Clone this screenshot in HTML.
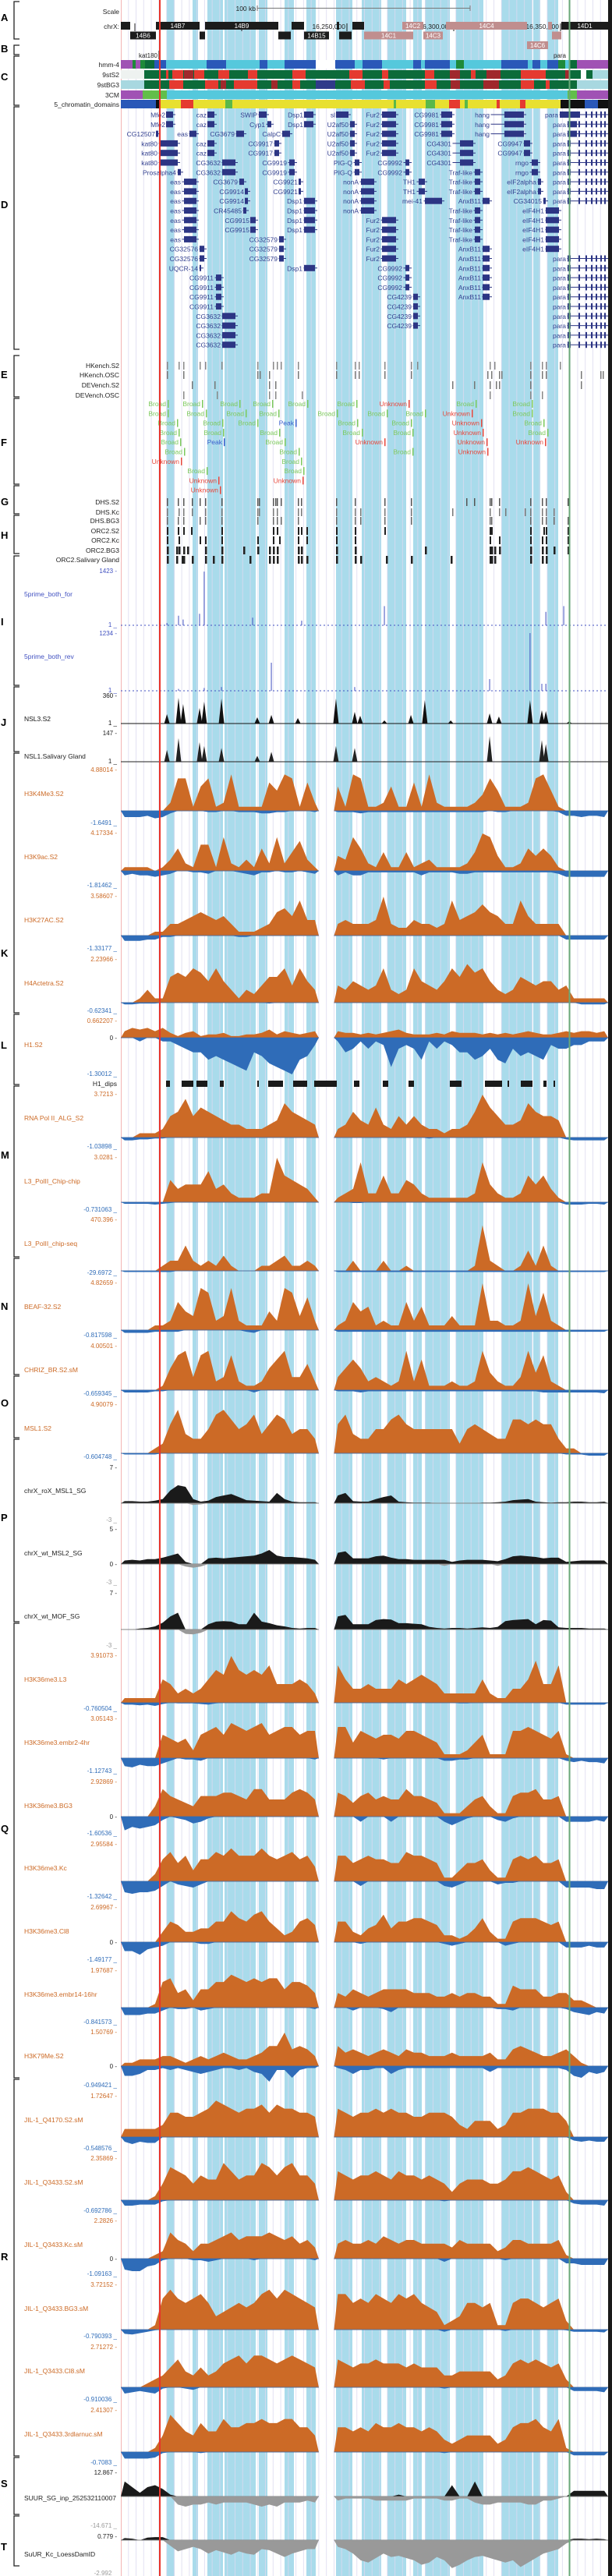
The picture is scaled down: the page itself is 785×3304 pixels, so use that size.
<!DOCTYPE html>
<html><head><meta charset="utf-8"><title>Genome browser</title>
<style>
html,body{margin:0;padding:0;background:#fff}
svg{display:block;font-family:"Liberation Sans",sans-serif}
</style></head>
<body>
<svg id="root" xmlns="http://www.w3.org/2000/svg" width="785" height="3304" viewBox="0 0 785 3304"></svg>
<script>
// ---------- data arrays (0-10 relative for orange/blue tracks; units for black tracks) ----------
const h3k4me3Pos=[0,0,0,0,0,0,2,8, 8,1,6,8,1,2,9,1, 1,1,1,7,5,9,8,1, 7,2,0,0,6,1,9,8, 1,1,2,6,1,1,7,1, 9,2,1,1,1,1,2,4, 8,5,1,1,1,2,8,9, 5,1,0,0,0,0,0,0];
const h3k4me3Neg=[5,5,5,4,6,5,2,0, 0,0,0,1,1,0,0,1, 1,1,2,2,1,1,0,0, 0,1,0,0,1,1,1,2, 1,1,1,1,1,1,1,1, 1,1,1,1,1,1,1,1, 0,1,1,0,0,0,0,0, 0,1,4,4,5,4,4,5];
const h3k9acPos=[1,1,1,1,0,1,3,6, 2,1,7,7,1,9,2,1, 3,1,6,2,9,2,5,8, 3,1,0,0,4,3,9,6, 2,1,5,1,1,5,1,2, 3,1,1,1,1,2,5,10, 9,4,1,1,2,6,4,6, 4,1,0,0,0,0,0,0];
const h3k9acNeg=[3,2,3,3,4,3,2,0, 0,1,1,2,0,0,0,1, 2,3,1,1,0,1,1,0, 1,2,0,0,3,1,3,3, 1,1,1,1,1,1,1,3, 1,1,1,1,2,2,1,1, 1,1,1,1,1,1,1,1, 1,2,4,4,4,4,4,4];
const h3k27acPos=[0,0,0,0,1,1,3,3, 4,5,6,5,4,5,3,1, 1,1,2,3,6,7,5,9, 4,4,0,0,3,4,3,3, 3,4,10,3,2,2,4,3, 3,2,3,9,4,5,6,8, 6,5,3,3,9,5,3,3, 3,3,0,0,0,0,0,0];
const h3k27acNeg=[4,4,4,3,3,1,1,0, 0,0,0,0,0,0,0,1, 1,0,0,0,0,0,0,0, 0,0,0,0,0,0,0,0, 0,0,0,0,0,0,0,0, 0,0,0,0,0,0,0,0, 0,0,0,0,0,0,0,0, 0,0,3,3,3,3,3,3];
const h4acPos=[0,0,1,3,1,1,6,7, 6,8,7,5,8,5,3,1, 3,2,4,6,6,8,4,8, 5,3,0,0,4,3,5,4, 3,4,8,3,2,3,8,5, 4,3,5,8,6,9,7,8, 5,3,2,3,6,5,4,5, 5,3,4,1,1,1,1,1];
const h4acNeg=[2,2,1,1,1,0,0,0, 0,0,0,0,0,0,0,0, 0,0,0,1,0,0,0,0, 0,0,0,0,0,0,0,0, 0,0,0,0,0,0,0,0, 0,0,0,0,0,0,0,0, 0,0,0,0,0,0,0,0, 0,0,0,0,2,2,2,2];
const h1Pos=[4,6,5,6,4,6,3,1, 3,4,1,2,2,3,1,1, 2,2,3,5,2,4,3,2, 3,4,0,0,4,3,3,2, 3,2,3,4,5,3,2,2, 2,3,2,4,3,3,3,2, 3,2,3,2,3,4,3,2, 2,3,4,3,4,4,3,4];
const h1Neg=[0,0,1,0,0,1,1,2, 3,4,4,6,5,6,7,8, 9,4,5,7,8,9,10,6, 5,2,0,0,1,4,3,1, 3,1,2,8,3,2,3,6, 1,3,1,2,4,4,6,5, 3,6,7,3,5,4,5,6, 2,3,3,2,2,1,1,1];
const polIIPos=[0,0,1,1,1,2,5,6, 9,5,7,6,5,4,3,3, 2,2,2,3,4,8,6,5, 4,3,0,0,2,3,6,4, 3,7,3,2,5,3,5,3, 2,2,1,2,2,3,6,10, 7,5,3,3,4,8,6,5, 5,4,0,0,0,0,0,0];
const polIINeg=[3,3,2,2,1,1,0,0, 0,0,0,0,0,0,0,0, 0,0,0,0,0,0,0,0, 0,0,0,0,0,0,0,0, 0,0,0,0,0,0,0,0, 1,0,0,0,0,0,0,0, 0,0,0,0,0,0,0,0, 0,0,2,3,3,3,3,3];
const chipChipPos=[0,0,0,0,0,0,5,3, 4,4,4,7,3,4,2,1, 1,1,2,2,10,6,5,4, 3,1,0,0,1,2,3,9, 2,2,6,2,2,5,4,2, 1,1,1,1,1,1,2,9, 4,2,1,1,2,6,4,6, 3,1,0,0,0,0,0,0];
const chipChipNeg=[2,2,2,2,3,2,1,0, 0,0,0,0,0,0,0,0, 0,0,0,0,0,0,0,0, 0,0,0,0,0,0,1,1, 0,0,0,0,0,0,0,0, 0,0,0,0,0,0,0,0, 0,0,0,0,0,0,0,0, 0,0,3,3,3,2,2,3];
const chipSeqPos=[0,0,0,0,0,1,2,2, 5,2,1,2,1,3,1,0, 0,0,1,1,2,3,1,1, 2,1,0,0,0,0,2,0, 0,0,2,0,0,1,0,0, 0,0,0,0,0,0,1,9, 2,1,0,0,1,4,1,5, 1,0,0,0,0,0,0,0];
const chipSeqNeg=[5,5,5,5,5,5,5,0, 0,0,0,0,0,0,0,0, 0,0,0,0,0,0,0,0, 0,0,0,0,5,5,5,5, 5,5,5,5,5,5,5,5, 5,5,5,5,5,5,5,5, 5,5,5,5,5,5,5,5, 5,5,5,5,5,5,5,5];
const beafPos=[0,0,0,0,1,1,2,6, 4,3,9,8,2,3,9,2, 1,1,1,4,2,9,8,3, 7,2,0,0,1,2,6,4, 5,1,2,1,1,6,2,5, 1,1,1,3,1,1,1,10, 2,2,1,1,2,10,3,8, 2,1,0,0,0,0,0,0];
const beafNeg=[5,5,5,5,3,3,3,3, 0,0,0,0,0,0,0,0, 3,5,0,0,0,0,0,0, 0,0,0,0,3,3,3,3, 3,3,3,3,3,3,3,3, 3,3,3,3,3,3,3,3, 3,3,3,3,3,3,3,3, 3,3,3,3,3,3,3,3];
const chrizPos=[0,0,0,0,0,1,5,8, 9,3,8,9,2,3,8,2, 1,1,2,5,7,9,3,3, 6,2,0,0,3,5,7,5, 2,3,2,1,2,9,2,7, 1,1,1,2,1,1,2,9, 4,2,1,1,3,9,4,8, 2,1,0,0,0,0,0,0];
const chrizNeg=[6,6,6,6,3,3,0,0, 0,0,0,0,0,0,0,0, 0,6,0,0,0,0,0,0, 0,0,0,0,3,3,3,6, 3,3,3,3,3,3,3,3, 3,3,3,3,3,3,3,3, 3,3,3,3,3,3,3,6, 6,6,6,6,6,6,6,8];
const msl1Pos=[0,0,0,0,1,2,6,9, 4,3,3,5,8,9,7,5, 6,8,4,6,8,7,4,5, 5,3,0,0,6,8,4,3, 3,5,5,7,8,6,5,5, 5,5,5,5,2,5,6,5, 4,3,3,7,7,6,7,6, 6,3,1,1,0,0,0,0];
const msl1Neg=[3,3,3,3,3,0,0,0, 0,0,0,0,0,0,0,0, 0,0,0,0,0,0,0,0, 0,0,0,0,0,0,0,0, 0,0,0,0,0,0,0,0, 0,0,0,0,0,0,0,0, 0,0,0,0,0,0,0,0, 0,0,3,3,3,6,6,6];
const roxPos=[0.4,0.4,0.3,0.3,0.5,0.8,2.5,3.5, 3.2,0.8,0.3,0.5,1.2,1.5,1.8,1.2, 0.6,0.5,0.4,0.3,2,0.8,0.3,0.2, 0.2,0.2,0,0,1.5,2,0.4,0.3, 0.3,0.8,1.2,1.5,0.3,0.2,0.1,0.1, 0.1,0,0,0,0,0,0,0.1, 0.1,0.2,0.3,0.6,0.7,0.8,0.3,0.2, 0.1,0.2,0.2,0.3,0.3,0.2,0.2,0.3];
const roxNeg=[0,0,0,0,0,0,0,0, 0,0.3,0.2,0,0,0,0,0, 0,0,0,0,0,0,0,0, 0,0,0,0,0,0,0,0, 0,0,0,0,0,0,0,0, 0,0,0,0,0,0,0,0, 0,0,0,0,0,0,0,0, 0,0,0,0,0,0,0,0];
const msl2Pos=[0.5,0.6,0.5,0.7,0.7,0.9,1.2,1.5, 0.3,0,0,0.8,0.9,0.8,0.9,1.0, 1.1,1.2,1.5,2,1.2,1,1,0.9, 0.8,0.6,0,0,1.6,1.8,0.8,0.8, 0.8,1.1,1.2,0.9,0.7,0.7,0.6,0.6, 0.6,0.6,0.6,0.3,0.5,0.6,0.6,0.6, 0.5,0.4,0.7,1.1,1.2,1.1,1.0,0.8, 0.9,0.9,0.3,0.4,0.5,0.5,0.5,0.5];
const msl2Neg=[0,0,0,0,0,0,0,0, 0.4,0.6,0.4,0,0,0,0,0, 0,0,0,0,0,0,0,0, 0,0,0,0,0,0,0,0, 0,0,0,0,0,0,0,0, 0,0,0.3,0,0,0,0,0, 0,0.3,0,0,0,0,0,0, 0,0,0,0,0,0,0,0];
const mofPos=[0,0,0.2,0.3,0.6,1.3,2.5,3.2, 0,0,0,1.0,1.5,1.6,1.5,1.0, 1.0,3.2,1.5,1.2,0.8,0.6,0.3,0.2, 0.3,0.3,0,0,2.5,2.8,1.0,1.0, 1.0,1.8,2,1.9,1.2,1.2,1.1,1.0, 0.5,0.3,0.2,0.3,0.3,0.2,0.3,0.4, 0.3,0.5,1.6,1.8,1.9,2.0,1.0,1.8, 1.7,0.4,0.3,0.3,0.3,0.2,0.2,0.2];
const mofNeg=[0,0,0,0,0,0,0,0, 0.8,0.9,0.6,0,0,0,0,0, 0,0,0,0,0,0,0,0, 0,0,0,0,0,0,0,0, 0,0,0,0,0,0,0,0, 0,0,0,0,0,0,0,0, 0,0,0,0,0,0,0,0, 0,0,0,0,0,0,0,0];
const k36L3Pos=[1,1,1,1,1,5,4,2, 3,2,3,5,7,6,10,7, 6,7,6,8,4,4,4,5, 4,2,0,0,8,5,3,3, 4,3,3,3,5,4,5,6, 5,4,2,2,2,2,2,5, 2,1,1,3,3,5,9,4, 4,8,0,0,0,0,0,0];
const k36L3Neg=[3,3,4,3,5,2,0,1, 1,1,2,3,1,0,0,0, 0,0,0,0,0,0,0,0, 0,0,0,0,0,0,0,0, 0,0,0,0,0,0,0,0, 0,0,0,0,1,1,0,0, 0,0,0,0,0,0,0,0, 0,0,3,3,3,3,3,3];
const k36E24Pos=[0,0,0,0,0,6,5,4, 5,2,6,7,8,6,9,8, 7,8,9,6,7,8,8,6, 7,7,0,0,8,8,4,7, 6,5,6,6,5,7,7,6, 5,4,1,1,1,2,4,6, 1,1,1,7,7,8,7,6, 5,7,1,0,0,0,0,0];
const k36E24Neg=[6,7,5,6,6,4,2,0, 1,1,2,0,0,0,0,0, 0,0,0,0,0,0,0,0, 0,1,0,0,0,0,0,0, 0,0,1,0,0,0,0,0, 0,0,2,2,1,1,0,0, 0,0,0,0,0,0,0,0, 0,0,2,3,2,3,3,4];
const k36BG3Pos=[0,0,0,0,3,8,6,5, 4,3,6,6,6,7,7,6, 5,8,8,5,5,5,7,8, 7,5,0,0,7,6,4,6, 7,5,6,5,5,8,6,6, 5,4,1,1,1,3,5,6, 3,1,1,6,7,7,8,5, 5,6,0,0,0,0,0,0];
const k36BG3Neg=[8,6,7,6,5,2,0,1, 2,4,3,1,0,0,0,0, 0,0,0,0,0,0,0,0, 0,0,0,0,0,0,0,3, 0,0,0,3,0,0,0,0, 0,0,3,5,3,1,0,0, 0,2,3,1,0,0,0,0, 0,0,3,3,3,3,2,3];
const k36KcPos=[0,0,0,0,2,6,8,5, 7,3,6,6,8,7,9,7, 7,7,9,7,6,7,8,6, 7,4,0,0,7,7,5,6, 7,6,6,5,5,8,7,7, 6,5,1,1,3,5,5,6, 3,1,1,6,7,6,7,5, 5,6,0,0,0,0,0,0];
const k36KcNeg=[7,8,7,7,6,3,0,2, 3,4,2,0,0,0,0,0, 0,0,0,0,0,0,0,0, 0,0,0,0,0,0,0,3, 0,0,0,0,0,0,0,0, 0,0,3,4,2,0,0,0, 0,2,1,1,0,0,0,0, 0,0,4,4,4,4,5,5];
const k36Cl8Pos=[0,0,0,0,0,3,6,5, 3,3,4,4,6,6,9,7, 6,8,9,6,4,2,3,6, 7,5,0,0,6,6,3,2, 4,5,8,4,6,6,7,7, 6,5,2,2,1,2,4,7, 3,1,1,6,7,7,7,6, 5,6,0,0,0,0,0,0];
const k36Cl8Neg=[5,5,7,4,3,2,0,0, 0,0,1,1,0,0,0,0, 0,0,0,0,0,0,0,0, 0,0,0,0,0,0,0,1, 0,0,0,0,0,0,0,0, 0,0,1,2,1,0,0,0, 0,0,2,1,0,0,0,0, 0,0,3,3,3,2,3,3];
const k36E14Pos=[0,0,0,0,1,7,8,4, 5,2,5,5,7,7,9,8, 7,8,7,8,8,5,7,7, 6,4,0,0,4,3,5,4, 3,4,5,5,5,5,4,4, 4,3,3,4,3,4,4,3, 3,1,1,6,5,5,5,3, 3,4,4,2,2,1,0,0];
const k36E14Neg=[5,5,5,4,4,2,0,1, 1,0,2,1,0,0,0,0, 0,0,0,0,0,0,0,0, 0,1,0,0,0,0,2,0, 0,0,1,3,0,0,0,0, 0,0,0,0,0,0,0,0, 0,1,1,2,0,0,0,0, 0,0,1,3,4,5,3,4];
const k79Pos=[1,1,2,2,2,3,3,2, 1,2,3,2,3,4,3,2, 2,3,4,6,6,10,5,6, 5,3,0,0,6,4,5,4, 3,4,5,4,3,5,4,4, 3,3,3,4,3,3,3,3, 4,2,2,5,6,5,4,3, 3,4,5,3,1,0,0,0];
const k79Neg=[5,5,4,2,2,1,2,1, 2,3,4,3,2,1,1,2, 1,3,4,8,2,2,6,2, 1,1,0,0,1,2,4,2, 2,1,1,4,2,1,1,1, 1,1,1,1,1,1,1,1, 3,1,1,1,1,1,1,1, 1,1,2,5,6,3,4,3];
const jil4170Pos=[2,2,2,2,2,3,6,6, 5,5,6,7,9,8,7,6, 7,7,8,6,8,7,7,6, 6,5,0,0,7,6,5,6, 6,7,6,7,6,6,5,5, 6,6,6,5,3,2,4,4, 4,2,3,6,6,7,7,7, 6,6,4,0,0,0,0,0];
const jil4170Neg=[4,6,4,5,5,0,0,0, 0,0,0,0,0,0,0,0, 0,0,0,0,0,0,0,0, 0,0,0,0,0,0,0,0, 0,0,0,0,0,0,0,0, 0,0,0,0,0,0,0,0, 0,0,0,0,0,0,0,0, 0,0,0,3,4,3,4,4];
const jilS2Pos=[0,0,0,0,1,4,8,7, 6,4,6,5,5,9,7,5, 6,6,9,8,6,8,9,6, 6,4,0,0,7,6,5,6, 6,7,6,5,7,6,6,5, 6,5,4,2,4,5,5,5, 4,4,5,7,7,8,7,6, 5,6,2,0,0,0,0,0];
const jilS2Neg=[5,5,4,4,4,1,0,0, 0,0,0,0,0,0,0,0, 0,0,0,0,0,0,0,0, 0,0,0,0,0,0,0,0, 0,0,0,0,0,0,0,0, 0,0,1,0,0,0,0,0, 0,0,0,0,0,0,0,0, 0,0,0,3,4,4,4,5];
const jilKcPos=[0,0,0,0,1,2,7,5, 4,2,4,4,5,6,7,5, 6,6,6,7,6,5,6,4, 5,3,0,0,4,5,4,4, 5,4,6,5,4,5,5,4, 4,4,4,3,5,4,4,4, 4,2,3,5,5,4,4,4, 4,5,1,0,0,0,0,0];
const jilKcNeg=[7,8,8,5,4,1,0,0, 0,1,1,2,1,0,0,0, 0,1,0,0,0,0,0,0, 0,1,0,0,0,0,0,0, 0,0,0,0,0,0,0,0, 0,0,2,0,0,0,0,0, 0,0,1,0,0,0,0,0, 0,0,3,3,4,4,4,4];
const jilBG3Pos=[0,0,0,0,1,7,9,7, 6,7,8,6,3,4,5,6, 5,6,8,9,7,9,8,7, 6,5,0,0,8,8,6,7, 6,8,7,6,8,7,8,6, 5,4,1,2,3,6,6,5, 6,1,1,6,7,7,6,5, 6,7,2,0,0,0,0,0];
const jilBG3Neg=[6,7,5,3,1,0,0,0, 0,0,0,0,0,0,0,0, 0,0,0,0,0,0,0,0, 0,0,0,0,0,0,0,0, 0,0,0,0,0,0,0,0, 0,0,3,0,0,0,0,0, 0,0,2,0,0,0,0,0, 0,0,1,3,3,3,3,4];
const jilCl8Pos=[0,0,0,1,2,3,5,7, 4,3,5,3,4,6,7,8, 6,8,8,7,6,7,8,7, 6,5,0,0,7,6,5,6, 6,7,6,6,6,5,6,5, 5,5,3,3,4,4,4,4, 4,2,3,6,7,6,7,6, 5,6,2,0,0,0,0,0];
const jilCl8Neg=[5,4,3,4,5,1,0,0, 1,2,0,0,0,0,0,0, 0,0,0,0,0,0,0,0, 0,0,0,0,0,0,0,0, 0,0,0,0,0,0,0,0, 0,0,1,0,0,0,0,0, 0,0,0,0,0,0,0,0, 0,0,0,3,3,3,3,4];
const jilLarPos=[0,0,0,0,1,4,9,7, 5,4,7,5,5,8,6,6, 7,7,8,7,7,8,8,6, 6,4,0,0,6,6,5,6, 5,7,6,6,7,6,6,5, 6,5,3,2,3,4,4,4, 4,2,3,6,7,7,8,6, 5,8,1,0,0,0,0,0];
const jilLarNeg=[6,6,6,6,5,1,0,0, 0,0,1,0,0,0,0,0, 0,0,0,0,0,0,0,0, 0,0,0,0,0,0,0,0, 0,0,0,0,0,0,0,0, 0,0,1,0,0,0,0,0, 0,0,0,0,0,0,0,0, 0,0,0,3,3,3,3,3];
const suurSgPos=[8,5,2,5,6,4,1,0, 0,0,0,0,0,0,0,0, 0,0,0,0,0,0,0,0, 0,0,0,0,0,0,0,0, 0,0,0,0,1,0,0,0, 0,0,0,6,0,0,8,0, 0,0,0,0,0,0,0,0, 0,0,0,3,3,3,3,3];
const suurSgNeg=[0,0,0,0,0,0,0,4, 5,4,4,3,4,3,3,3, 3,4,5,4,5,3,3,3, 2,3,0,0,2,1,1,1, 1,2,2,2,2,2,1,1, 1,1,2,2,1,1,3,4, 4,3,3,3,3,4,4,2, 2,1,0,0,0,0,0,0];
const suurKcPos=[0.4,0.3,0,0.5,0.6,0.6,0,0, 0,0,0,0,0,0,0,0, 0,0,0,0,0,0,0,0, 0,0,0,0,0,0,0,0, 0,0,0,0,0,0,0,0, 0,0,0,0,0,0,0,0, 0,0,0,0,0,0,0,0, 0,0,0,0.3,0.3,0.2,0.3,0.2];
const suurKcNeg=[0,0,0,0,0,0,0.5,1, 0.8,0.6,0.8,1.2,0.9,1.1,1.3,1.0, 1.2,1.3,0.8,0.9,1.2,1.5,1.2,1.0, 0.8,0.8,0,0,0.6,0.8,1.2,1.8, 2.0,1.6,1.2,1.5,1.4,1.6,1.8,2.2, 2.0,1.5,1.8,2.5,2.2,1.8,1.5,1.4, 1.6,1.8,2.0,1.8,2.4,2.0,1.6,1.2, 1.0,0.8,0.3,0,0,0,0,0];
// spike tracks: genomic positions (kb) and values
const fivePrimeForKb=[16164.5,16170.0,16172.2,16180.0,16182.2,16205.2,16228.5,16267.8,16344.5,16353.0];
const fivePrimeForVal=[60,250,150,300,1400,200,120,500,350,500];
const fivePrimeRevKb=[16170.0,16182.2,16190.4,16214.1,16253.7,16317.8,16337.0,16342.6,16344.5];
const fivePrimeRevVal=[40,60,80,600,80,250,1234,150,150];
const nsl3Kb=[16164.5,16170.0,16172.2,16180.0,16182.2,16190.4,16207.4,16214.1,16226.7,16244.8,16253.7,16256.3,16267.8,16280.4,16287.0,16299.3,16317.8,16322.2,16337.0,16342.6,16344.5,16355.6];
const nsl3Val=[120,330,250,200,280,320,80,110,70,320,150,100,40,110,300,40,130,90,300,170,160,30];
const nsl1Kb=[16164.5,16170.0,16180.0,16182.2,16190.4,16207.4,16214.1,16244.8,16253.7,16317.8,16342.6,16344.5];
const nsl1Val=[60,120,100,80,70,30,50,80,70,130,110,90];

// ---------- setup ----------
const NS='http://www.w3.org/2000/svg';
const svg=document.getElementById('root');
function mk(tag,a,p){const e=document.createElementNS(NS,tag);for(const k in a)e.setAttribute(k,a[k]);(p||svg).appendChild(e);return e;}
function tx(s,a,p){const e=mk('text',a,p);e.textContent=s;return e;}
const X0=155,X1=780,NB=64,BW=(X1-X0)/NB;
function binX(i){return X0+(i+0.5)*BW;}
function kbX(kb){return 155+(kb-16142.6)/0.37037;}
const ORANGE='#cc6a26',BLUE='#2f6cb8',NAVY='#2c3584';

// background layers
const gBg=mk('g',{});


const cols=[[214,224],[247,254],[266,286],[288,328],[332,343],[365,377],[393,405],[431,452],[464,489],[497,521],[530,541],[545,577],[585,620],[643,683],[684,693],[702,716]];
cols.forEach(c=>{const r=mk('rect',{x:c[0],y:0,width:c[1]-c[0],height:3304,fill:'#a9dbeb'},gBg);

});
for(let k=1;k<NB;k++){const l=mk('line',{x1:X0+k*BW,x2:X0+k*BW,y1:0,y2:3304,stroke:'#dcdaf0','stroke-width':1,opacity:0.8},gBg);

}
const pinkL=mk('line',{x1:155.5,x2:155.5,y1:0,y2:3304,stroke:'#f3b5b5','stroke-width':1});



// ---------- left brackets ----------
const groups=[['A',2,50,22],['B',58,70,62],['C',72,135,98],['D',137,448,262],['E',456,509,480],['F',511,621,567],['G',623,659,643],['H',661,710,686],['I',713,879,797],['J',881,964,926],['K',966,1299,1222],['L',1301,1391,1340],['M',1393,1612,1481],['N',1614,1763,1675],['O',1765,1844,1799],['P',1846,2080,1946],['Q',2082,2665,2345],['R',2667,3150,2894],['S',3152,3225,3185],['T',3227,3291,3266]];
groups.forEach(g=>{
 const p=mk('path',{d:`M25 ${g[1]} H18 V${g[2]} H25`,fill:'none',stroke:'#222','stroke-width':1.3});
 
 
 const t=tx(g[0],{x:1,y:g[3]+5,'font-size':13,'font-weight':'bold',fill:'#000'});
 
 
});

function lbl(s,x,y,col,anchor,size,name){const t=tx(s,{x:x,y:y,'font-size':size||8,fill:col||'#222','text-anchor':anchor||'end'});

return t;}

// ---------- header ----------
lbl('Scale',153,18,'#222','end',8.5,'scale-label');
lbl('chrX:',153,37,'#222','end',8.5,'chrom-label');
lbl('100 kb',328,14,'#222','end',8.5,'scale-bar-text');
const sb=mk('path',{d:'M330 7 V14 M330 10.5 H603 M603 7 V14',stroke:'#777','stroke-width':1,fill:'none'});


[['16,200,000',310],['16,250,000',445],['16,300,000',582],['16,350,000',719]].forEach(p=>{
 lbl(p[0],p[1]-2,37,'#222','end',8.5,'position-tick-label');
 const l=mk('line',{x1:p[1],x2:p[1],y1:30,y2:40,stroke:'#222','stroke-width':1});
 
 
});
const tk1=mk('line',{x1:173,x2:173,y1:30,y2:40,stroke:'#222'});


const bands=[[155,167,0,'','k'],[200,256,0,'14B7','k'],[263,357,0,'14B9','k'],[374,390,0,'','k'],[432,435,0,'','k'],[452,467,0,'','k'],[516,543,0,'14C2','p'],[572,676,0,'14C4','p'],[703,708,0,'','p'],[720,780,0,'14D1','k'],
[167,200,1,'14B6','k'],[256,263,1,'','k'],[357,373,1,'','k'],[390,422,1,'14B15','k'],[435,451,1,'','k'],[467,530,1,'14C1','p'],[543,568,1,'14C3','p'],[708,720,1,'','p'],[676,703,2,'14C6','p']];
bands.forEach(b=>{const y=28+b[2]*12.5;
 const r=mk('rect',{x:b[0],y:y,width:b[1]-b[0],height:10,fill:b[4]=='k'?'#1c1c1c':'#c08e8e'});
 
 
 if(b[3]){const t=tx(b[3],{x:(b[0]+b[1])/2,y:y+8,'font-size':8,fill:'#fff','text-anchor':'middle'});
 
 }
});
lbl('kat180',202,74,'#222','end',8,'kat180-label');
lbl('para',726,74,'#222','end',8,'para-label');
const k180=mk('line',{x1:204,x2:204,y1:65,y2:76,stroke:'#111'});



function strip(name,y,h,base,segs){
 lbl(name,153,y+h-2,'#222','end',8.5,'chromatin-track-label');
 const b=mk('rect',{x:155,y:y,width:625,height:h,fill:base});
 
 
 segs.forEach(s=>{const r=mk('rect',{x:s[0],y:y,width:s[1]-s[0],height:h,fill:s[2]});
 
 });
}
const PU='#a052b4',GR='#1e8a3a',DB='#2a58b8',CY='#55c8dc',RD='#e53a30',DG='#0c6b3a',DR='#a0282c',LB='#a8d8e0';
strip('hmm-4',77,11,CY,[[155,170,PU],[170,174,GR],[174,180,PU],[180,186,GR],[186,198,DG],[198,213,DB],[265,290,DB],[333,343,DB],[365,405,DB],[405,430,'#fff'],[430,455,DB],[465,490,DB],[530,540,DB],[545,577,DB],[585,595,GR],[643,677,DB],[683,693,DB],[702,716,DB],[716,725,GR],[730,740,DG],[740,780,PU]]);
strip('9stS2',90,11,DG,[[155,185,'#eef2f0'],[213,216,RD],[221,235,RD],[236,248,DR],[249,262,RD],[280,294,RD],[318,330,RD],[375,392,RD],[448,465,RD],[490,498,RD],[545,557,RD],[577,590,DR],[604,610,RD],[624,642,DR],[668,690,RD],[690,700,RD],[725,730,DR],[745,752,'#fff'],[760,780,LB]]);
strip('9stBG3',103,11,DG,[[155,185,LB],[217,235,RD],[263,280,RD],[283,290,DR],[300,330,RD],[348,356,DR],[375,385,RD],[405,430,'#303a8a'],[450,468,RD],[492,500,RD],[545,560,RD],[578,590,DR],[620,640,DR],[668,685,RD],[700,705,RD],[740,780,LB]]);
strip('3CM',116,11,CY,[[155,183,PU],[183,214,'#62be4a'],[728,740,'#62be4a'],[740,780,PU]]);
strip('5_chromatin_domains',128,11,'#e8e030',[[155,200,DB],[200,204,'#111'],[232,248,RD],[289,298,'#5ab84a'],[505,508,'#5ab84a'],[546,558,'#5ab84a'],[576,590,RD],[596,600,'#5ab84a'],[637,641,RD],[667,674,RD],[719,750,'#111'],[750,767,DB],[767,780,'#111']]);

// ---------- genes ----------
const genes=[['Mfe2',212,213,222,[0,1]],['CG12507',199,200,203,[2]],['kat80',202,204,228,[3,4,5]],['Prosalpha4',226,228,232,[6]],['eas',232,236,252,[7,8,9,10,11,12,13]],['caz',265,266,275,[0,1,3,4]],['eas',241,243,252,[2]],['CG3679',301,303,313,[2]],['CG3632',283,285,302,[5,6,21,22,23,24]],['CG3679',305,307,313,[7]],['CG9914',313,314,318,[8,9]],['CR45485',310,312,316,[10]],['CG9915',320,321,328,[11,12]],['CG32576',254,256,262,[14,15]],['UQCR-14',254,256,258,[16]],['CG9911',274,277,284,[17,18,19,20]],['SWIP',330,332,342,[0]],['Cyp1',340,343,348,[1]],['CalpC',360,362,372,[2]],['CG9917',350,352,358,[3,4]],['CG9919',368,371,378,[5,6]],['CG9921',382,383,386,[7,8]],['CG32579',356,358,364,[13,14,15]],['Dsp1',389,390,402,[0,1]],['Dsp1',388,390,404,[9,10,11,12,16]],['sl',430,431,447,[0]],['U2af50',447,449,455,[1,2,3,4]],['PIG-Q',452,455,461,[5,6]],['nonA',460,463,480,[7,8,9,10]],['Fur2',487,490,508,[0,1,2,3,4,11,12,13,14,15]],['CG9981',563,566,580,[0,1,2]],['CG9992',516,520,525,[5,6,16,17,18]],['TH1',533,537,545,[7,8]],['mei-41',542,545,567,[9]],['CG4239',528,530,536,[19,20,21,22]],['CG4301',579,590,607,[3,4,5]],['Traf-like',606,609,616,[6,7,8,10,11,12,13]],['AnxB11',617,619,628,[9,14,15,16,17,18,19]],['hang',628,647,672,[0,1,2]],['CG9947',670,672,680,[3,4]],['rngo',678,682,690,[5,6]],['eIF2alpha',688,690,694,[7,8]],['CG34015',695,697,700,[9]],['eIF4H1',698,700,717,[10,11,12,13,14]],['para',716,718,744,[0]],['para',726,728,740,[1,2]],['para',726,728,732,[3,4,5,6,7,8,9,15,16,17,18,19,20,21,22,23,24]]];
genes.forEach(g=>{g[4].forEach(r=>{const y=147+r*12.3;
 lbl(g[0],g[1],y+3.5,'#33408f','end',8.5,'gene-label');
 const ln=mk('line',{x1:g[1]+1.5,x2:g[0]=='para'?780:g[3]+3,y1:y,y2:y,stroke:NAVY,'stroke-width':1});
 
 
 const bx=mk('rect',{x:g[2],y:y-4,width:Math.max(2,g[3]-g[2]),height:8,fill:NAVY});
 
 
 if(g[0]=='para'){[742,751,758,764,770,775].forEach(x=>{const t=mk('rect',{x:x,y:y-4,width:2,height:8,fill:NAVY});
 
 });}
});});

// ---------- tick tracks (E, G, H) ----------
function ticks(name,y,xs,col,w){lbl(name,153,y+3,'#222','end',8.5,'feature-track-label');
 xs.forEach(x=>{const r=mk('rect',{x:x,y:y-5,width:w||1.5,height:10,fill:col});
 
 });}
ticks('HKench.S2',469,[214,229,235,256,263,284,330,350,355,360,382,431,455,460,493,527,535,628,634,680,695,700,718],'#888');
ticks('HKench.OSC',481,[214,235,330,333,345,382,431,455,460,493,527,625,630,640,643,680,695,700,745,770,773],'#777');
ticks('DEVench.S2',494,[246,275,345,353,580,608,628,636,640,680,745],'#777');
ticks('DEVench.OSC',507,[235,278,345,353,387,628,680,695],'#888');
ticks('DHS.S2',644,[214,228,235,246,256,263,284,330,332,350,353,355,360,382,386,431,455,493,527,598,608,628,630,640,680,695,700,728],'#555');
ticks('DHS.Kc',657,[214,229,235,246,263,284,330,332,350,355,382,386,431,455,462,493,527,580,628,640,648,673,680,695,700,710],'#777');
ticks('DHS.BG3',668,[214,228,235,256,263,284,330,350,355,360,382,431,455,462,493,527,628,630,680,695,700,710,728],'#666');
ticks('ORC2.S2',681,[214,228,235,245,284,350,355,382,386,393,431,455,493,628,630,680,697,700,728],'#222',2);
ticks('ORC2.Kc',693,[214,229,256,263,284,330,350,358,382,393,431,455,628,640,680,695,700,728],'#222',2);
ticks('ORC2.BG3',706,[214,226,229,235,240,263,284,312,330,345,350,355,382,386,431,455,545,628,630,634,640,680,695,700,710,728],'#222',2.5);
ticks('ORC2.Salivary Gland',718,[214,226,233,235,246,263,273,284,320,345,350,355,382,386,393,431,455,462,495,527,578,628,630,634,680,695,700],'#222',2.5);

// ---------- F: peak calls ----------
const fCalls=[['Broad','g',213,0],['Broad','g',257,0],['Broad','g',305,0],['Broad','g',347,0],['Broad','g',392,0],['Broad','g',455,0],['Unknown','r',522,0],['Broad','g',608,0],['Broad','g',680,0],
['Broad','g',213,1],['Broad','g',262,1],['Broad','g',313,1],['Broad','g',355,1],['Broad','g',430,1],['Broad','g',494,1],['Broad','g',543,1],['Unknown','r',603,1],['Broad','g',680,1],
['Broad','g',225,2],['Broad','g',283,2],['Broad','g',328,2],['Peak','b',377,2],['Broad','g',456,2],['Broad','g',525,2],['Unknown','r',615,2],['Broad','g',695,2],
['Broad','g',227,3],['Broad','g',284,3],['Broad','g',356,3],['Broad','g',462,3],['Broad','g',527,3],['Unknown','r',617,3],['Broad','g',700,3],
['Broad','g',229,4],['Peak','b',285,4],['Broad','g',363,4],['Unknown','r',491,4],['Unknown','r',622,4],['Unknown','r',697,4],
['Broad','g',234,5],['Broad','g',381,5],['Broad','g',527,5],['Unknown','r',623,5],
['Unknown','r',230,6],['Broad','g',384,6],['Broad','g',263,7],['Broad','g',387,7],['Unknown','r',278,8],['Unknown','r',386,8],['Unknown','r',280,9]];
const fcol={g:'#7cc95c',r:'#e8483c',b:'#3a5fcd'};
fCalls.forEach(f=>{const y=518+f[3]*12.3;
 lbl(f[0],f[2],y+3,fcol[f[1]],'end',8.5,'peak-call-label');
 const r=mk('rect',{x:f[2]+2,y:y-5,width:1.5,height:10,fill:fcol[f[1]]});
 
 });

// ---------- I / J spike tracks ----------
function spikes(name,col,top,base,maxV,kbs,vals,tl,triangle,dotted){
 lbl(tl+' -',150,top+3,col,'end',8,'axis-max-label');
 lbl('1 _',150,base+2,col,'end',8,'axis-min-label');
 lbl(name,31,top+33,col,'start',8.5,'track-name');
 const bl=mk('line',{x1:155,x2:780,y1:base,y2:base,stroke:col,'stroke-width':1,'stroke-dasharray':dotted?'2 3':'none'});
 
 
 const h=base-top;
 kbs.forEach((kb,i)=>{const x=kbX(kb),y=base-vals[i]/maxV*h;
  const p=triangle?mk('path',{d:`M${x-3.5} ${base} L${x} ${y} L${x+3.5} ${base} Z`,fill:col}):mk('line',{x1:x,x2:x,y1:base,y2:y,stroke:col,'stroke-width':1});
  
  });
}
spikes('5prime_both_for','#4050c0',732,802,1423,fivePrimeForKb,fivePrimeForVal,'1423',false,true);
spikes('5prime_both_rev','#4050c0',812,886,1234,fivePrimeRevKb,fivePrimeRevVal,'1234',false,true);
spikes('NSL3.S2','#111',892,928,360,nsl3Kb,nsl3Val,'360',true,false);
spikes('NSL1.Salivary Gland','#222',940,977,147,nsl1Kb,nsl1Val,'147',true,false);

// ---------- H1 dips ----------
lbl('H1_dips',150,1393,'#222','end',8.5,'h1-dips-label');
[[213,218],[233,248],[252,266],[282,287],[330,332],[344,363],[376,394],[403,432],[454,461],[491,498],[524,531],[577,592],[622,644],[651,653],[668,683],[697,701],[710,712]].forEach(d=>{
 const r=mk('rect',{x:d[0],y:1386,width:d[1]-d[0],height:8,fill:'#1a1a1a'});
 
 });

// ---------- signal tracks ----------
const sigTracks=[
['H3K4Me3.S2','4.88014','-1.6491',987,1040,1056,h3k4me3Pos,h3k4me3Neg,0],
['H3K9ac.S2','4.17334','-1.81462',1068,1117,1136,h3k9acPos,h3k9acNeg,0],
['H3K27AC.S2','3.58607','-1.33177',1149,1200,1217,h3k27acPos,h3k27acNeg,0],
['H4Actetra.S2','2.23966','-0.62341',1230,1286,1297,h4acPos,h4acNeg,0],
['H1.S2','0.662207','-1.30012',1309,1331,1378,h1Pos,h1Neg,1],
['RNA Pol II_ALG_S2','3.7213','-1.03898',1403,1459,1471,polIIPos,polIINeg,0],
['L3_PolII_Chip-chip','3.0281','-0.731063',1484,1542,1552,chipChipPos,chipChipNeg,0],
['L3_PolII_chip-seq','470.396','-29.6972',1564,1630,1633,chipSeqPos,chipSeqNeg,0],
['BEAF-32.S2','4.82659','-0.817598',1645,1706,1713,beafPos,beafNeg,0],
['CHRIZ_BR.S2.sM','4.00501','-0.659345',1726,1783,1788,chrizPos,chrizNeg,0],
['MSL1.S2','4.90079','-0.604748',1801,1864,1869,msl1Pos,msl1Neg,0],
['H3K36me3.L3','3.91073','-0.760504',2123,2184,2192,k36L3Pos,k36L3Neg,0],
['H3K36me3.embr2-4hr','3.05143','-1.12743',2204,2255,2272,k36E24Pos,k36E24Neg,0],
['H3K36me3.BG3','2.92869','-1.60536',2285,2330,2352,k36BG3Pos,k36BG3Neg,1],
['H3K36me3.Kc','2.95584','-1.32642',2365,2413,2433,k36KcPos,k36KcNeg,0],
['H3K36me3.Cl8','2.69967','-1.49177',2446,2491,2514,k36Cl8Pos,k36Cl8Neg,1],
['H3K36me3.embr14-16hr','1.97687','-0.841573',2527,2575,2594,k36E14Pos,k36E14Neg,0],
['H3K79Me.S2','1.50769','-0.949421',2606,2650,2675,k79Pos,k79Neg,1],
['JIL-1_Q4170.S2.sM','1.72647','-0.548576',2688,2741,2756,jil4170Pos,jil4170Neg,0],
['JIL-1_Q3433.S2.sM','2.35869','-0.692786',2768,2822,2836,jilS2Pos,jilS2Neg,0],
['JIL-1_Q3433.Kc.sM','2.2826','-1.09163',2848,2897,2917,jilKcPos,jilKcNeg,1],
['JIL-1_Q3433.BG3.sM','3.72152','-0.790393',2930,2988,2997,jilBG3Pos,jilBG3Neg,0],
['JIL-1_Q3433.Cl8.sM','2.71272','-0.910036',3010,3062,3078,jilCl8Pos,jilCl8Neg,0],
['JIL-1_Q3433.3rdlarnuc.sM','2.41307','-0.7083',3091,3145,3159,jilLarPos,jilLarNeg,0]];
const blackTracks=[
['chrX_roX_MSL1_SG','7','-3',1882,1928,1950,roxPos,roxNeg,0,7,3,'#1a1a1a','#999',1912],
['chrX_wt_MSL2_SG','5','-3',1961,2006,2030,msl2Pos,msl2Neg,1,5,3,'#1a1a1a','#999',1992],
['chrX_wt_MOF_SG','7','-3',2043,2090,2111,mofPos,mofNeg,0,7,3,'#1a1a1a','#999',2073],
['SUUR_SG_inp_252532110007','12.867','-14.671',3171,3202,3240,suurSgPos,suurSgNeg,0,12.867,14.671,'#1a1a1a','#999',3204],
['SuUR_Kc_LoessDamID','0.779','-2.992',3253,3258,3301,suurKcPos,suurKcNeg,0,0.779,2.992,'#1a1a1a','#999',3276]];
const segs=[[0,25],[28,63]];
function area(P,zero,scale,sign,col){
 segs.forEach(s=>{let d=`M${X0+s[0]*BW} ${zero}`;
  for(let i=s[0];i<=s[1];i++){d+=` L${binX(i).toFixed(1)} ${(zero-sign*P[i]*scale).toFixed(1)}`;}
  d+=` L${X0+(s[1]+1)*BW} ${zero} Z`;
  const p=mk('path',{d:d,fill:col});
  
  
  const z=mk('line',{x1:X0+s[0]*BW,x2:X0+(s[1]+1)*BW,y1:zero,y2:zero,stroke:col,'stroke-width':0.8});
  
  });
}
sigTracks.forEach(t=>{
 lbl(t[1]+' -',150,t[3]+3,ORANGE,'end',8,'axis-max-label');
 lbl(t[2]+' _',150,t[5]+2,BLUE,'end',8,'axis-min-label');
 lbl(t[0],31,t[3]+34,ORANGE,'start',8.5,'track-name');
 if(t[8])lbl('0 -',150,t[4]+3,'#222','end',8,'axis-zero-label');
 area(t[6],t[4],(t[4]-t[3]-1)/10,1,ORANGE);
 area(t[7],t[4],(t[5]-t[4])/10,-1,BLUE);
});
blackTracks.forEach(t=>{
 lbl(t[1]+' -',150,t[3]+3,'#222','end',8,'axis-max-label');
 lbl(t[2]+' _',150,t[5]+2,'#999','end',8,'axis-min-label');
 lbl(t[0],31,t[13]+3,'#222','start',8.5,'track-name');
 if(t[8])lbl('0 -',150,t[4]+3,'#222','end',8,'axis-zero-label');
 area(t[6],t[4],(t[4]-t[3])/t[9],1,t[11]);
 area(t[7],t[4],(t[5]-t[4])/t[10],-1,t[12]);
});

// ---------- marker lines ----------
const red=mk('rect',{x:204,y:0,width:2,height:3304,fill:'#e8332a'});


const green=mk('rect',{x:729.5,y:0,width:2,height:3304,fill:'#6aa878'});


const edge=mk('rect',{x:780,y:0,width:5,height:3304,fill:'#1a1a1a'});


</script>
</body></html>
